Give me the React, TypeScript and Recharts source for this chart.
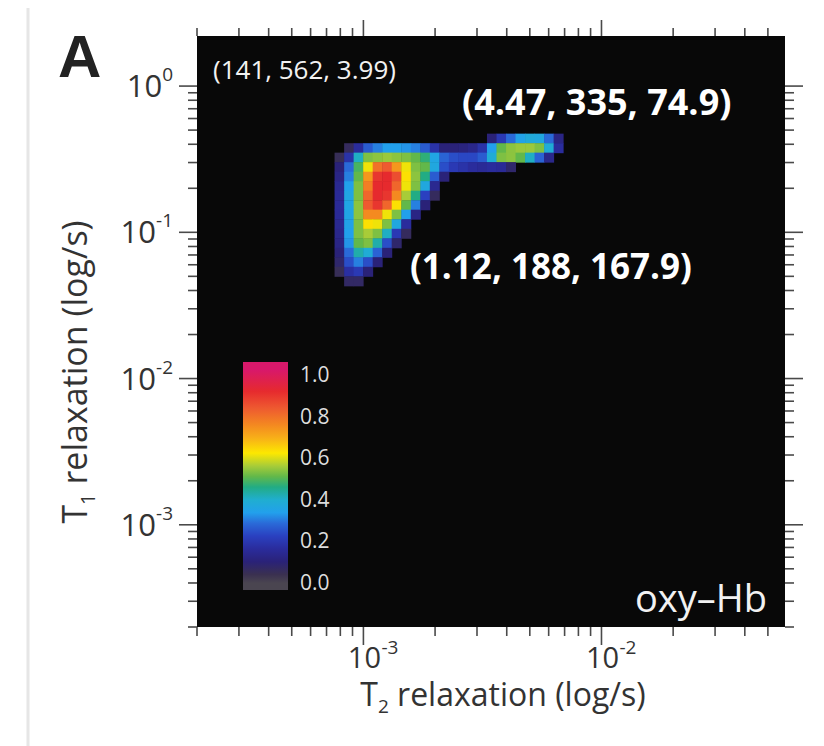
import React from "react"
import { ScatterChart, Scatter, XAxis, YAxis, CartesianGrid } from "recharts"

// T2 cell centres (s), one per column
const t2Centers = [
  7.24e-4, 7.94e-4, 8.71e-4, 9.55e-4, 1.047e-3, 1.148e-3, 1.259e-3, 1.38e-3, 1.514e-3,
  1.66e-3, 1.82e-3, 1.995e-3, 2.188e-3, 2.399e-3, 2.63e-3, 2.884e-3, 3.162e-3, 3.467e-3,
  3.802e-3, 4.169e-3, 4.571e-3, 5.012e-3, 5.495e-3, 6.026e-3, 6.607e-3, 7.244e-3,
]

// T1 cell centres (s), one per row, top to bottom
const t1Centers = [
  0.437, 0.376, 0.324, 0.279, 0.24, 0.207, 0.178, 0.153, 0.132, 0.1135, 0.0977, 0.0841,
  0.0724, 0.0624, 0.0537, 0.0462,
]

// normalised intensity, rows follow t1Centers, columns follow t2Centers (missing = 0)
const intensity = [
  [0, 0, 0, 0, 0, 0, 0, 0, 0, 0, 0, 0, 0, 0, 0, 0, 0, 0.1, 0.2, 0.28, 0.34, 0.37, 0.36, 0.28, 0.12],
  [0, 0, 0.06, 0.16, 0.26, 0.3, 0.33, 0.33, 0.32, 0.3, 0.26, 0.18, 0.1, 0.1, 0.11, 0.13, 0.18, 0.33, 0.5, 0.53, 0.54, 0.54, 0.52, 0.38, 0.16],
  [0, 0.05, 0.18, 0.4, 0.52, 0.53, 0.54, 0.53, 0.52, 0.5, 0.46, 0.35, 0.27, 0.24, 0.23, 0.23, 0.26, 0.38, 0.52, 0.53, 0.5, 0.4, 0.27, 0.13],
  [0, 0.1, 0.28, 0.48, 0.6, 0.78, 0.82, 0.72, 0.6, 0.52, 0.5, 0.36, 0.24, 0.2, 0.18, 0.16, 0.15, 0.16, 0.15, 0.08],
  [0, 0.12, 0.3, 0.5, 0.72, 0.88, 0.9, 0.84, 0.62, 0.53, 0.45, 0.26, 0.1],
  [0, 0.14, 0.33, 0.52, 0.76, 0.9, 0.9, 0.8, 0.6, 0.52, 0.36, 0.14],
  [0, 0.15, 0.35, 0.52, 0.8, 0.9, 0.88, 0.74, 0.55, 0.45, 0.22, 0.06],
  [0, 0.15, 0.35, 0.53, 0.82, 0.88, 0.8, 0.62, 0.5, 0.3, 0.1],
  [0, 0.15, 0.35, 0.53, 0.74, 0.74, 0.6, 0.52, 0.33, 0.12],
  [0, 0.14, 0.34, 0.52, 0.62, 0.6, 0.52, 0.36, 0.16],
  [0, 0.13, 0.33, 0.52, 0.55, 0.52, 0.4, 0.2, 0.06],
  [0, 0.12, 0.32, 0.5, 0.52, 0.42, 0.24, 0.08],
  [0, 0.1, 0.28, 0.42, 0.38, 0.27, 0.1],
  [0, 0.08, 0.24, 0.3, 0.24, 0.1],
  [0, 0.05, 0.17, 0.2, 0.1],
  [0, 0, 0.07, 0.07],
]

const t2Ticks = [
  2e-4, 3e-4, 4e-4, 5e-4, 6e-4, 7e-4, 8e-4, 9e-4, 1e-3, 2e-3, 3e-3, 4e-3, 5e-3, 6e-3, 7e-3,
  8e-3, 9e-3, 1e-2, 2e-2, 3e-2, 4e-2, 5e-2,
]
const t1Ticks = [
  2e-4, 3e-4, 4e-4, 5e-4, 6e-4, 7e-4, 8e-4, 9e-4, 1e-3, 2e-3, 3e-3, 4e-3, 5e-3, 6e-3, 7e-3,
  8e-3, 9e-3, 1e-2, 2e-2, 3e-2, 4e-2, 5e-2, 6e-2, 7e-2, 8e-2, 9e-2, 0.1, 0.2, 0.3, 0.4, 0.5,
  0.6, 0.7, 0.8, 0.9, 1,
]
const colorbarLabels = ["1.0", "0.8", "0.6", "0.4", "0.2", "0.0"]

const T2_DOMAIN = [2e-4, 0.059]
const T1_DOMAIN = [2e-4, 2.2]

const COLOR_STOPS: [number, string][] = [
  [0, "#4a4550"],
  [0.04, "#3a3050"],
  [0.1, "#2a2278"],
  [0.16, "#2a2c9c"],
  [0.22, "#2a40c0"],
  [0.28, "#2a6ad8"],
  [0.33, "#22a0ec"],
  [0.39, "#20aed0"],
  [0.45, "#22ac84"],
  [0.5, "#62b84a"],
  [0.55, "#a8cc38"],
  [0.61, "#fde800"],
  [0.68, "#f8b018"],
  [0.74, "#f48a20"],
  [0.82, "#ee5a30"],
  [0.9, "#e62a2e"],
  [1, "#d8186a"],
]

const FONT = "'Open Sans', 'DejaVu Sans', sans-serif"
const TICK_COLOR = "#4a4a4a"

function hexToRgb(h: string) {
  return [1, 3, 5].map((i) => parseInt(h.slice(i, i + 2), 16))
}

function colorFor(v: number) {
  for (let i = 1; i < COLOR_STOPS.length; i++) {
    const [v1, c1] = COLOR_STOPS[i]
    if (v <= v1) {
      const [v0, c0] = COLOR_STOPS[i - 1]
      const t = (v - v0) / (v1 - v0)
      const a = hexToRgb(c0)
      const b = hexToRgb(c1)
      const rgb = a.map((x, k) => Math.round(x + (b[k] - x) * t))
      return `rgb(${rgb.join(",")})`
    }
  }
  return COLOR_STOPS[COLOR_STOPS.length - 1][1]
}

const cells = t1Centers.flatMap((t1, r) =>
  t2Centers.map((t2, c) => ({ t2, t1, v: intensity[r][c] ?? 0 }))
).filter((d) => d.v >= 0.04)

function decade(v: number) {
  const l = Math.log10(v)
  return Math.abs(l - Math.round(l)) < 1e-6 ? Math.round(l) : null
}

function LeftTick({ x, y, payload }: any) {
  const e = decade(payload.value)
  const len = e !== null ? 18 : 9
  return (
    <g>
      <line x1={x} x2={x - len} y1={y} y2={y} stroke={TICK_COLOR} strokeWidth={1.6} />
      {e !== null && (
        <text x={x - 24} y={y + 11} textAnchor="end" fontFamily={FONT} fontSize={31} fill="#333">
          10
          <tspan dy={-16} fontSize={19}>{String(e)}</tspan>
        </text>
      )}
    </g>
  )
}

function RightTick({ x, y, payload }: any) {
  const len = decade(payload.value) !== null ? 18 : 9
  return <line x1={x} x2={x + len} y1={y} y2={y} stroke={TICK_COLOR} strokeWidth={1.6} />
}

function BottomTick({ x, y, payload }: any) {
  const e = decade(payload.value)
  const len = e !== null ? 18 : 9
  return (
    <g>
      <line x1={x} x2={x} y1={y} y2={y + len} stroke={TICK_COLOR} strokeWidth={1.6} />
      {e !== null && (
        <>
          <text x={x + 1} y={y + 41} textAnchor="middle" fontFamily={FONT} fontSize={29} fill="#333">
            10
          </text>
          <text x={x + 18} y={y + 27} fontFamily={FONT} fontSize={19} fill="#333">
            {String(e)}
          </text>
        </>
      )}
    </g>
  )
}

function TopTick({ x, y, payload }: any) {
  const len = decade(payload.value) !== null ? 16 : 8
  return <line x1={x} x2={x} y1={y} y2={y - len} stroke={TICK_COLOR} strokeWidth={1.6} />
}

function Cell(props: any) {
  const { cx, cy, payload } = props
  return <rect x={cx - 5} y={cy - 5} width={10} height={10} fill={colorFor(payload.v)} />
}

export default function App() {
  const barTop = 362
  const barH = 228
  return (
    <div style={{ position: "relative", width: 816, height: 738, background: "#fff" }}>
      <ScatterChart width={816} height={738} margin={{ top: 8, right: 19, bottom: 59, left: 129 }}>
        <CartesianGrid fill="#080808" stroke="none" horizontal={false} vertical={false} />
        <XAxis
          dataKey="t2"
          type="number"
          scale="log"
          domain={T2_DOMAIN}
          allowDataOverflow
          ticks={t2Ticks}
          interval={0}
          height={60}
          tickSize={0}
          tickMargin={0}
          tickLine={false}
          axisLine={false}
          tick={BottomTick}
        />
        <XAxis
          xAxisId="top"
          orientation="top"
          dataKey="t2"
          type="number"
          scale="log"
          domain={T2_DOMAIN}
          allowDataOverflow
          ticks={t2Ticks}
          interval={0}
          height={20}
          tickSize={0}
          tickMargin={0}
          tickLine={false}
          axisLine={false}
          tick={TopTick}
        />
        <YAxis
          dataKey="t1"
          type="number"
          scale="log"
          domain={T1_DOMAIN}
          allowDataOverflow
          ticks={t1Ticks}
          interval={0}
          width={60}
          tickSize={0}
          tickMargin={0}
          tickLine={false}
          axisLine={false}
          tick={LeftTick}
        />
        <YAxis
          yAxisId="right"
          orientation="right"
          dataKey="t1"
          type="number"
          scale="log"
          domain={T1_DOMAIN}
          allowDataOverflow
          ticks={t1Ticks}
          interval={0}
          width={20}
          tickSize={0}
          tickMargin={0}
          tickLine={false}
          axisLine={false}
          tick={RightTick}
        />
        <Scatter data={cells} shape={Cell} isAnimationActive={false} />
        <Scatter
          data={[{ t2: 1e-3, t1: 0.1 }]}
          xAxisId="top"
          yAxisId="right"
          shape={() => <g />}
          isAnimationActive={false}
        />
      </ScatterChart>

      <svg
        width={816}
        height={738}
        style={{ position: "absolute", left: 0, top: 0, pointerEvents: "none" }}
      >
        <defs>
          <linearGradient id="cbar" x1="0" y1="0" x2="0" y2="1">
            {[...COLOR_STOPS].reverse().map(([v, c]) => (
              <stop key={v} offset={Math.max(0, (221 - 213 * v) / barH)} stopColor={c} />
            ))}
          </linearGradient>
        </defs>
        <g transform="translate(-8,-8)">
          <line x1={28} x2={28} y1={0} y2={746} stroke="#e6e6e6" strokeWidth={3} />
          <line x1={28} x2={824} y1={3} y2={3} stroke="#ececec" strokeWidth={2} />

          <text x={58} y={77} fontFamily="'Liberation Sans', Arial, sans-serif" fontWeight="bold" fontSize={60} fill="#222">
            A
          </text>

          <text
            transform="translate(87,372) rotate(-90)"
            textAnchor="middle"
            fontFamily={FONT}
            fontSize={34}
            fill="#333"
          >
            T<tspan dy={8} fontSize={20}>1</tspan>
            <tspan dy={-8}> relaxation (log/s)</tspan>
          </text>
          <text x={503} y={706} textAnchor="middle" fontFamily={FONT} fontSize={32} fill="#333">
            T<tspan dy={7} fontSize={19}>2</tspan>
            <tspan dy={-7}> relaxation (log/s)</tspan>
          </text>

          <rect x={243} y={barTop} width={45} height={barH} fill="url(#cbar)" />
          {colorbarLabels.map((l, i) => (
            <text key={l} x={300} y={382 + i * 41.6} fontFamily={FONT} fontSize={21} fill="#ddd">
              {l}
            </text>
          ))}

          <text x={213} y={79} fontFamily={FONT} fontSize={26} fill="#f2f2f2">
            (141, 562, 3.99)
          </text>
          <text x={462} y={115} fontFamily={FONT} fontSize={36} fontWeight="bold" fill="#fff">
            (4.47, 335, 74.9)
          </text>
          <text x={410} y={279} fontFamily={FONT} fontSize={35} fontWeight="bold" fill="#fff">
            (1.12, 188, 167.9)
          </text>
          <text x={767} y={612} textAnchor="end" fontFamily={FONT} fontSize={38} fill="#f2f2f2">
            oxy–Hb
          </text>
        </g>
      </svg>
    </div>
  )
}
